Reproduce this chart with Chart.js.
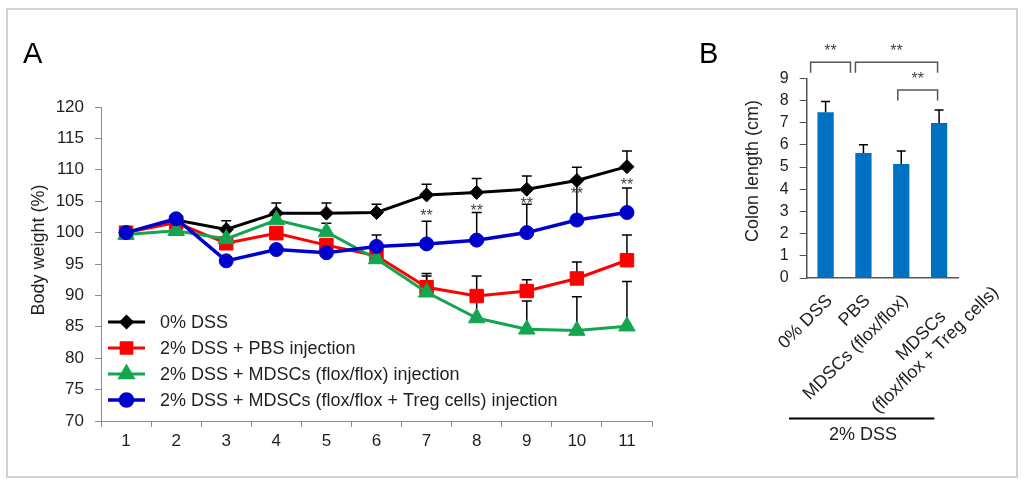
<!DOCTYPE html>
<html><head><meta charset="utf-8">
<script src="https://cdn.jsdelivr.net/npm/chart.js@4"></script>
<style>
html,body{margin:0;padding:0;background:#fff;}
#wrap{position:relative;width:1027px;height:488px;overflow:hidden;background:#fff;}
#frame{position:absolute;left:6px;top:8px;width:1008px;height:466px;border:2px solid #d2d2d2;}
canvas{position:absolute;top:0;}
#cA{left:0}
#cB{left:690px}
</style></head><body>
<div id="wrap"><div id="frame"></div>
<canvas id="cA" width="690" height="488"></canvas>
<canvas id="cB" width="337" height="488"></canvas></div>
<script>
// ---------- Panel A data ----------
const days = ['1','2','3','4','5','6','7','8','9','10','11'];
const weightTicks = [70,75,80,85,90,95,100,105,110,115,120];
const seriesNames = ['0% DSS','2% DSS + PBS injection','2% DSS + MDSCs (flox/flox) injection','2% DSS + MDSCs (flox/flox + Treg cells) injection'];
const dss0 = [100, 102.0, 100.5, 103.1, 103.1, 103.2, 106.0, 106.4, 106.9, 108.3, 110.5];
const dss0Err = [0, 0, 1.4, 1.6, 1.6, 1.3, 1.7, 2.2, 2.1, 2.1, 2.5];
const pbs = [100, 101.6, 98.3, 99.9, 98.0, 96.3, 91.3, 89.9, 90.7, 92.7, 95.6];
const pbsErr = [0, 0, 0, 0, 0, 0, 2.2, 3.2, 1.8, 2.6, 4.0];
const mdscFlox = [99.7, 100.3, 99.0, 102.0, 100.1, 95.8, 90.5, 86.4, 84.6, 84.4, 85.1];
const mdscFloxErr = [0, 0, 0, 0, 1.4, 0, 2.6, 3.5, 4.5, 5.4, 7.1];
const mdscTreg = [100, 102.2, 95.5, 97.3, 96.8, 97.8, 98.2, 98.8, 100.0, 102.0, 103.2];
const mdscTregErr = [0, 0, 0, 0, 0, 1.8, 3.6, 4.4, 4.5, 6.3, 3.9];
const sigMarks = ['', '', '', '', '', '', '**', '**', '**', '**', '**'];
const sigLevels = [null, null, null, null, null, null, 103.3, 104.1, 105.2, 106.8, 108.2];

// ---------- Panel B data ----------
const groups = ['0% DSS', 'PBS', 'MDSCs (flox/flox)', ['MDSCs', '(flox/flox + Treg cells)']];
const colonLength = [7.47, 5.63, 5.14, 6.98];
const colonErr = [0.48, 0.37, 0.58, 0.59];
const colonTicks = [0,1,2,3,4,5,6,7,8,9];
const comparisons = [[0,1,'**'],[1,3,'**'],[2,3,'**']];
const groupCaption = '2% DSS';

const FONT = "'Liberation Sans', Arial, sans-serif";
Chart.defaults.font.family = FONT;
Chart.defaults.color = '#1f1f1f';
const TXT = '#1f1f1f';

function drawStars(ctx, txt, x, yc, size){
  ctx.save();
  ctx.font = size + 'px ' + FONT;
  ctx.fillStyle = '#444';
  ctx.textAlign = 'center';
  ctx.textBaseline = 'alphabetic';
  ctx.fillText(txt, x, yc + size * 0.58);
  ctx.restore();
}

// ---------- Panel A ----------
const styleA = [
  {color:'#000000', style:'rectRot', r:7, lr:5.5, lw:3},
  {color:'#ff0000', style:'rect', r:9.5, lr:7.5, lw:3},
  {color:'#14a550', style:'triangle', r:9.5, lr:7.5, lw:3},
  {color:'#0000cc', style:'circle', r:7, lr:6, lw:3.5}
];
const valuesA = [dss0, pbs, mdscFlox, mdscTreg];
const errsA = [dss0Err, pbsErr, mdscFloxErr, mdscTregErr];

const pluginA = {
  id: 'panelA',
  beforeDatasetsDraw(chart){
    const ctx = chart.ctx, ys = chart.scales.y;
    chart.data.datasets.forEach((ds, i) => {
      const meta = chart.getDatasetMeta(i);
      const errs = errsA[i];
      ctx.save();
      ctx.strokeStyle = '#000'; ctx.lineWidth = 1.5;
      errs.forEach((e, j) => {
        if (!e) return;
        const x = meta.data[j].x;
        const y0 = ys.getPixelForValue(ds.data[j]);
        const y1 = ys.getPixelForValue(ds.data[j] + e);
        ctx.beginPath();
        ctx.moveTo(x, y0); ctx.lineTo(x, y1);
        ctx.moveTo(x - 5, y1); ctx.lineTo(x + 5, y1);
        ctx.stroke();
      });
      ctx.restore();
    });
  },
  afterDraw(chart){
    const ctx = chart.ctx, ys = chart.scales.y, xs = chart.scales.x;
    sigMarks.forEach((m, j) => {
      if (!m) return;
      drawStars(ctx, m, xs.getPixelForValue(j), ys.getPixelForValue(sigLevels[j]), 16);
    });
    const lx0 = 108, lx1 = 145, ly0 = 322, lstep = 26;
    chart.data.datasets.forEach((ds, i) => {
      const st = styleA[i];
      const y = ly0 + i * lstep;
      ctx.save();
      ctx.strokeStyle = st.color; ctx.lineWidth = st.lw;
      ctx.beginPath(); ctx.moveTo(lx0, y); ctx.lineTo(lx1, y); ctx.stroke();
      ctx.fillStyle = st.color; ctx.strokeStyle = st.color;
      Chart.helpers.drawPoint(ctx, {pointStyle: st.style, radius: st.lr, rotation: 0, borderWidth: 1}, (lx0 + lx1) / 2, y);
      ctx.fillStyle = TXT;
      ctx.font = '18px ' + FONT;
      ctx.textAlign = 'left'; ctx.textBaseline = 'middle';
      ctx.fillText(ds.label, 160, y + 1);
      ctx.restore();
    });
    ctx.save();
    ctx.translate(39, 250);
    ctx.rotate(-Math.PI / 2);
    ctx.fillStyle = TXT; ctx.font = '18px ' + FONT;
    ctx.textAlign = 'center'; ctx.textBaseline = 'middle';
    ctx.fillText('Body weight (%)', 0, 0);
    ctx.restore();
    ctx.save();
    ctx.fillStyle = '#000'; ctx.font = '29px ' + FONT;
    ctx.textAlign = 'left'; ctx.textBaseline = 'alphabetic';
    ctx.fillText('A', 23, 63);
    ctx.restore();
  }
};

new Chart(document.getElementById('cA'), {
  type: 'line',
  data: {
    labels: days,
    datasets: valuesA.map((v, i) => ({
      label: seriesNames[i],
      data: v,
      borderColor: styleA[i].color,
      backgroundColor: styleA[i].color,
      borderWidth: styleA[i].lw,
      pointStyle: styleA[i].style,
      pointRadius: styleA[i].r,
      pointBorderWidth: 1,
      pointBackgroundColor: styleA[i].color,
      pointBorderColor: styleA[i].color,
      tension: 0,
      fill: false,
      order: 3 - i
    }))
  },
  options: {
    responsive: false,
    animation: false,
    devicePixelRatio: 1,
    layout: {padding: {left: 20, right: 38, top: 107, bottom: 10}},
    plugins: {legend: {display: false}, tooltip: {enabled: false}},
    scales: {
      x: {
        type: 'category',
        offset: true,
        grid: {display: true, offset: true, drawOnChartArea: false, drawTicks: true, tickLength: 6, color: '#8a8a8a'},
        border: {display: true, color: '#8a8a8a', width: 1},
        ticks: {font: {size: 17}, color: TXT, padding: 4, maxRotation: 0, autoSkip: false},
        afterFit(s){ s.height = 57; }
      },
      y: {
        min: 70, max: 120,
        afterBuildTicks(s){ s.ticks = weightTicks.map(v => ({value: v})); },
        grid: {display: true, drawOnChartArea: false, drawTicks: true, tickLength: 6, color: '#8a8a8a'},
        border: {display: true, color: '#8a8a8a', width: 1},
        ticks: {font: {size: 17}, color: TXT, padding: 11, autoSkip: false},
        afterFit(s){ s.width = 81; }
      }
    }
  },
  plugins: [pluginA]
});

// ---------- Panel B ----------
const bracketDx = [[-15, -13], [-8, -1.5], [-3.5, -1.5]];
const bracketTop = [62.3, 62.3, 90];

const pluginB = {
  id: 'panelB',
  afterDatasetsDraw(chart){
    const ctx = chart.ctx, ys = chart.scales.y;
    const meta = chart.getDatasetMeta(0);
    ctx.save();
    ctx.strokeStyle = '#000'; ctx.lineWidth = 1.5;
    colonErr.forEach((e, j) => {
      const x = meta.data[j].x;
      const y0 = ys.getPixelForValue(colonLength[j]);
      const y1 = ys.getPixelForValue(colonLength[j] + e);
      ctx.beginPath();
      ctx.moveTo(x, y0); ctx.lineTo(x, y1);
      ctx.moveTo(x - 4.5, y1); ctx.lineTo(x + 4.5, y1);
      ctx.stroke();
    });
    ctx.restore();
  },
  afterDraw(chart){
    const ctx = chart.ctx;
    const meta = chart.getDatasetMeta(0);
    const cx = j => meta.data[j].x;
    comparisons.forEach((c, k) => {
      const x0 = cx(c[0]) + bracketDx[k][0], x1 = cx(c[1]) + bracketDx[k][1];
      const yt = bracketTop[k], yb = yt + 10.4;
      ctx.save();
      ctx.strokeStyle = '#555'; ctx.lineWidth = 1.5;
      ctx.beginPath();
      ctx.moveTo(x0, yb); ctx.lineTo(x0, yt); ctx.lineTo(x1, yt); ctx.lineTo(x1, yb);
      ctx.stroke();
      ctx.restore();
      drawStars(ctx, c[2], (x0 + x1) / 2, yt - 15.5, 16);
    });
    groups.forEach((g, j) => {
      const lines = Array.isArray(g) ? g : [g];
      const x = cx(j) + 4, y = 298 + (lines.length - 1) * 16;
      ctx.save();
      ctx.translate(x, y);
      ctx.rotate(-Math.PI / 4);
      ctx.fillStyle = TXT; ctx.font = '18px ' + FONT;
      ctx.textBaseline = 'middle';
      if (lines.length === 1) {
        ctx.textAlign = 'right';
        ctx.fillText(lines[0], 0, 0);
      } else {
        const w0 = ctx.measureText(lines[0]).width;
        ctx.textAlign = 'center';
        lines.forEach((ln, k) => ctx.fillText(ln, -w0 / 2, k * 20));
      }
      ctx.restore();
    });
    ctx.save();
    ctx.strokeStyle = '#000'; ctx.lineWidth = 2;
    ctx.beginPath(); ctx.moveTo(789 - 690, 418.5); ctx.lineTo(934.3 - 690, 418.5); ctx.stroke();
    ctx.fillStyle = TXT; ctx.font = '18px ' + FONT;
    ctx.textAlign = 'center'; ctx.textBaseline = 'middle';
    ctx.fillText(groupCaption, 863 - 690, 435);
    ctx.restore();
    ctx.save();
    ctx.translate(753 - 690, 171);
    ctx.rotate(-Math.PI / 2);
    ctx.fillStyle = TXT; ctx.font = '18px ' + FONT;
    ctx.textAlign = 'center'; ctx.textBaseline = 'middle';
    ctx.fillText('Colon length (cm)', 0, 0);
    ctx.restore();
    ctx.save();
    ctx.fillStyle = '#000'; ctx.font = '29px ' + FONT;
    ctx.textAlign = 'left'; ctx.textBaseline = 'alphabetic';
    ctx.fillText('B', 699 - 690, 63);
    ctx.restore();
  }
};

new Chart(document.getElementById('cB'), {
  type: 'bar',
  data: {
    labels: groups,
    datasets: [{
      label: 'Colon length (cm)',
      data: colonLength,
      backgroundColor: '#0070c0',
      borderWidth: 0,
      barPercentage: 0.43,
      categoryPercentage: 1.0
    }]
  },
  options: {
    responsive: false,
    animation: false,
    devicePixelRatio: 1,
    layout: {padding: {left: 60, right: 69, top: 78.3, bottom: 200}},
    plugins: {legend: {display: false}, tooltip: {enabled: false}},
    scales: {
      x: {
        grid: {display: false},
        border: {display: true, color: '#555', width: 1.5},
        ticks: {display: false},
        afterFit(s){ s.height = 10; }
      },
      y: {
        min: 0, max: 9,
        afterBuildTicks(s){ s.ticks = colonTicks.map(v => ({value: v})); },
        grid: {display: true, drawOnChartArea: false, drawTicks: true, tickLength: 7, color: '#555'},
        border: {display: true, color: '#555', width: 1.5},
        ticks: {font: {size: 16}, color: TXT, padding: 11, autoSkip: false},
        afterFit(s){ s.width = 56.7; }
      }
    }
  },
  plugins: [pluginB]
});
</script>
</body></html>
